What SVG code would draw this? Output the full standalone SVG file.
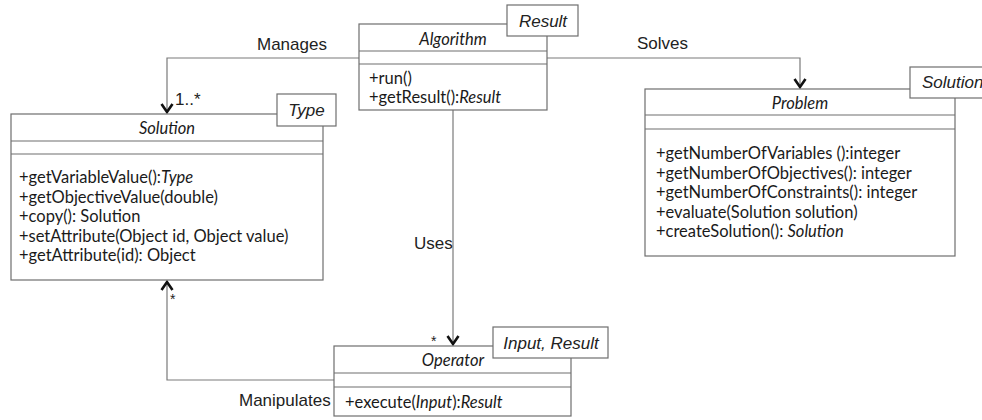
<svg xmlns="http://www.w3.org/2000/svg" width="982" height="420" viewBox="0 0 982 420">
<defs>
<style>
.box{fill:#fff;stroke:#6e6e6e;stroke-width:1.2}
.ln{stroke:#6e6e6e;stroke-width:1.2;fill:none}
.name{font-family:Lato,"Open Sans",sans-serif;font-style:italic;font-size:16.5px;fill:#1a1a1a;text-anchor:middle}
.op{font-family:Lato,"Open Sans",sans-serif;font-size:16.5px;fill:#1a1a1a}
.it{font-style:italic}
.lbl{font-family:"Liberation Sans",Arial,sans-serif;font-size:17px;fill:#222}
.tt{font-family:"Liberation Sans",Arial,sans-serif;font-style:italic;font-size:17px;fill:#222;text-anchor:middle}
.conn{stroke:#7a7a7a;stroke-width:1.2;fill:none;marker-end:url(#v)}
.star{font-family:"Liberation Sans",Arial,sans-serif;font-size:14px;fill:#222}
</style>
<marker id="v" markerUnits="userSpaceOnUse" markerWidth="16" markerHeight="16" viewBox="-10 -8 12 16" refX="0" refY="0" orient="auto">
<path d="M-8,-5.5 L0,0 L-8,5.5" fill="none" stroke="#111" stroke-width="2.6"/>
</marker>
</defs>
<rect width="982" height="420" fill="#fff"/>

<g id="connectors">
<polyline class="conn" points="359,58 167,58 167,112"/>
<polyline class="conn" points="547,58 800,58 800,87"/>
<polyline class="conn" points="453,110 453,344"/>
<polyline class="conn" points="334,380 167,380 167,282"/>
<text class="lbl" x="257" y="50">Manages</text>
<text class="lbl" x="637" y="49">Solves</text>
<text class="lbl" x="414" y="249">Uses</text>
<text class="lbl" x="239" y="406">Manipulates</text>
<text class="lbl" x="175" y="105">1..*</text>
<text class="star" x="170" y="304">*</text>
<text class="star" x="431" y="346">*</text>
</g>

<g id="algorithm">
<rect class="box" x="359" y="24" width="188" height="86"/>
<line class="ln" x1="359" y1="51" x2="547" y2="51"/>
<line class="ln" x1="359" y1="64" x2="547" y2="64"/>
<text class="name" x="453" y="45">Algorithm</text>
<text class="op" x="369" y="84">+run()</text>
<text class="op" x="369" y="103">+getResult():<tspan class="it">Result</tspan></text>
<rect class="box" x="507" y="5" width="71" height="31"/>
<text class="tt" x="543" y="27">Result</text>
</g>

<g id="solution">
<rect class="box" x="11" y="114" width="312" height="166"/>
<line class="ln" x1="11" y1="141" x2="323" y2="141"/>
<line class="ln" x1="11" y1="154" x2="323" y2="154"/>
<text class="name" x="167" y="134">Solution</text>
<text class="op" x="19" y="183">+getVariableValue():<tspan class="it">Type</tspan></text>
<text class="op" x="19" y="202.5">+getObjectiveValue(double)</text>
<text class="op" x="19" y="222">+copy(): Solution</text>
<text class="op" x="19" y="241.5">+setAttribute(Object id, Object value)</text>
<text class="op" x="19" y="261">+getAttribute(id): Object</text>
<rect class="box" x="277" y="94" width="59" height="32"/>
<text class="tt" x="306.5" y="116">Type</text>
</g>

<g id="problem">
<rect class="box" x="645" y="89" width="310" height="167"/>
<line class="ln" x1="645" y1="115" x2="955" y2="115"/>
<line class="ln" x1="645" y1="129" x2="955" y2="129"/>
<text class="name" x="800" y="109">Problem</text>
<text class="op" x="656" y="159">+getNumberOfVariables ():integer</text>
<text class="op" x="656" y="178.5">+getNumberOfObjectives(): integer</text>
<text class="op" x="656" y="198">+getNumberOfConstraints(): integer</text>
<text class="op" x="656" y="217.5">+evaluate(Solution solution)</text>
<text class="op" x="656" y="237">+createSolution(): <tspan class="it">Solution</tspan></text>
<rect class="box" x="910" y="67" width="85" height="31"/>
<text class="tt" x="922" y="88" style="text-anchor:start">Solution</text>
</g>

<g id="operator">
<rect class="box" x="334" y="346" width="237" height="70"/>
<line class="ln" x1="334" y1="373" x2="571" y2="373"/>
<line class="ln" x1="334" y1="387" x2="571" y2="387"/>
<text class="name" x="453" y="366">Operator</text>
<text class="op" x="345" y="408">+execute(<tspan class="it">Input</tspan>):<tspan class="it">Result</tspan></text>
<rect class="box" x="493" y="327" width="115" height="31"/>
<text class="tt" x="551" y="349">Input, Result</text>
</g>
</svg>
